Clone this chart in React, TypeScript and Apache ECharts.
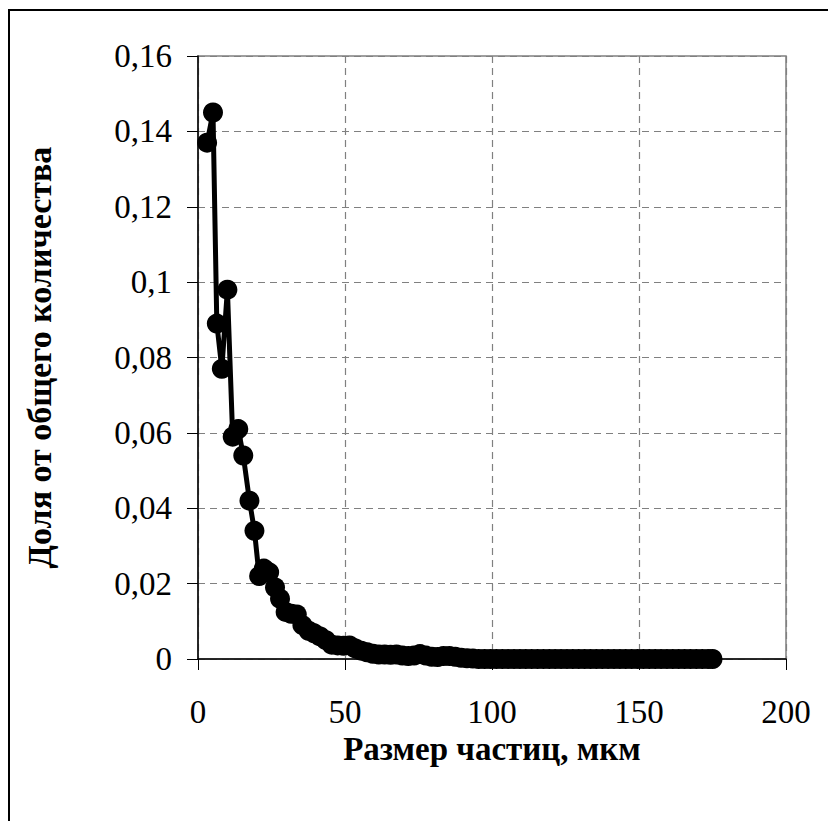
import React, { useEffect, useRef } from "react";
import * as echarts from "echarts";

const sizes = [
  3.1, 5.1, 6.4, 8.1, 10, 11.8, 13.7, 15.4, 17.5, 19.2, 20.8, 22.4, 24.2, 26.2, 27.9, 29.8,
  31.7, 33.6, 35.5, 37.6, 39.5, 41.5, 43.5, 45.5, 47.5, 49.5, 51.5, 53.5, 55.5, 57.5, 59.5,
  61.5, 63.5, 65.5, 67.5, 69.5, 71.5, 73.5, 75.5, 77.5, 79.5, 81.5, 83.5, 85.5, 87.5, 89.5,
  91.5, 93.5, 95.5, 97.5, 99.5, 101.5, 103.5, 105.5, 107.5, 109.5, 111.5, 113.5, 115.5,
  117.5, 119.5, 121.5, 123.5, 125.5, 127.5, 129.5, 131.5, 133.5, 135.5, 137.5, 139.5,
  141.5, 143.5, 145.5, 147.5, 149.5, 151.5, 153.5, 155.5, 157.5, 159.5, 161.5, 163.5,
  165.5, 167.5, 169.5, 171.5, 173.5, 175,
];

const fractions = [
  0.137, 0.145, 0.089, 0.077, 0.098, 0.059, 0.061, 0.054, 0.042, 0.034, 0.022, 0.024, 0.023,
  0.019, 0.016, 0.0125, 0.012, 0.0118, 0.009, 0.0075, 0.0068, 0.006, 0.005, 0.0038, 0.0036,
  0.0035, 0.0036, 0.0028, 0.0022, 0.0018, 0.0014, 0.0012, 0.0012, 0.0011, 0.0012, 0.0009,
  0.0008, 0.0009, 0.0013, 0.0009, 0.0006, 0.0005, 0.0008, 0.0008, 0.0006, 0.0003,
  0.0002, 0.0001, 0, 0, 0, 0, 0, 0, 0, 0, 0, 0, 0,
  0, 0, 0, 0, 0, 0, 0, 0, 0, 0, 0, 0,
  0, 0, 0, 0, 0, 0, 0, 0, 0, 0, 0, 0,
  0, 0, 0, 0, 0, 0,
];

const xAxisTitle = "Размер частиц, мкм";
const yAxisTitle = "Доля от общего количества";

const FONT = "'Liberation Serif', 'Times New Roman', serif";

export default function App() {
  const ref = useRef<HTMLDivElement>(null);
  useEffect(() => {
    if (!ref.current) return;
    const chart = echarts.init(ref.current, null, { renderer: "svg" });
    const data = sizes.map((s, i) => [s, fractions[i]]);
    chart.setOption({
      animation: false,
      backgroundColor: "#ffffff",
      graphic: [
        {
          type: "rect",
          shape: { x: 9, y: 10, width: 840, height: 840 },
          style: { fill: "none", stroke: "#000000", lineWidth: 2 },
          silent: true,
        },
      ],
      grid: {
        left: 198,
        top: 56,
        right: 42,
        bottom: 162,
        show: true,
        borderColor: "#808080",
        borderWidth: 1.5,
        backgroundColor: "transparent",
      },
      xAxis: {
        type: "value",
        min: 0,
        max: 200,
        interval: 50,
        name: xAxisTitle,
        nameLocation: "middle",
        nameGap: 68,
        nameTextStyle: {
          fontFamily: FONT,
          fontSize: 33,
          fontWeight: "bold",
          color: "#000",
        },
        axisLine: { show: true, onZero: false, lineStyle: { color: "#000", width: 1.5 } },
        axisTick: { show: true, inside: false, length: 11, lineStyle: { color: "#000", width: 1 } },
        axisLabel: { fontFamily: FONT, fontSize: 33, color: "#000", margin: 36 },
        splitLine: { show: true, lineStyle: { color: "#808080", type: [7, 5], width: 1.2 } },
      },
      yAxis: {
        type: "value",
        min: 0,
        max: 0.16,
        interval: 0.02,
        name: yAxisTitle,
        nameLocation: "middle",
        nameGap: 142,
        nameRotate: 90,
        nameTextStyle: {
          fontFamily: FONT,
          fontSize: 34,
          fontWeight: "bold",
          color: "#000",
        },
        axisLine: { show: true, onZero: false, lineStyle: { color: "#000", width: 1.5 } },
        axisTick: { show: true, inside: false, length: 11, lineStyle: { color: "#000", width: 1 } },
        axisLabel: {
          fontFamily: FONT,
          fontSize: 33,
          color: "#000",
          margin: 26,
          formatter: (v: number) => String(Number(v.toFixed(2))).replace(".", ","),
        },
        splitLine: { show: true, lineStyle: { color: "#808080", type: [7, 5], width: 1.2 } },
      },
      series: [
        {
          type: "line",
          data,
          clip: false,
          symbol: "circle",
          symbolSize: 20,
          itemStyle: { color: "#000" },
          lineStyle: { color: "#000", width: 5 },
        },
      ],
    });
    return () => chart.dispose();
  }, []);
  return <div ref={ref} style={{ width: 828, height: 821, position: "absolute", left: 0, top: 0 }} />;
}
